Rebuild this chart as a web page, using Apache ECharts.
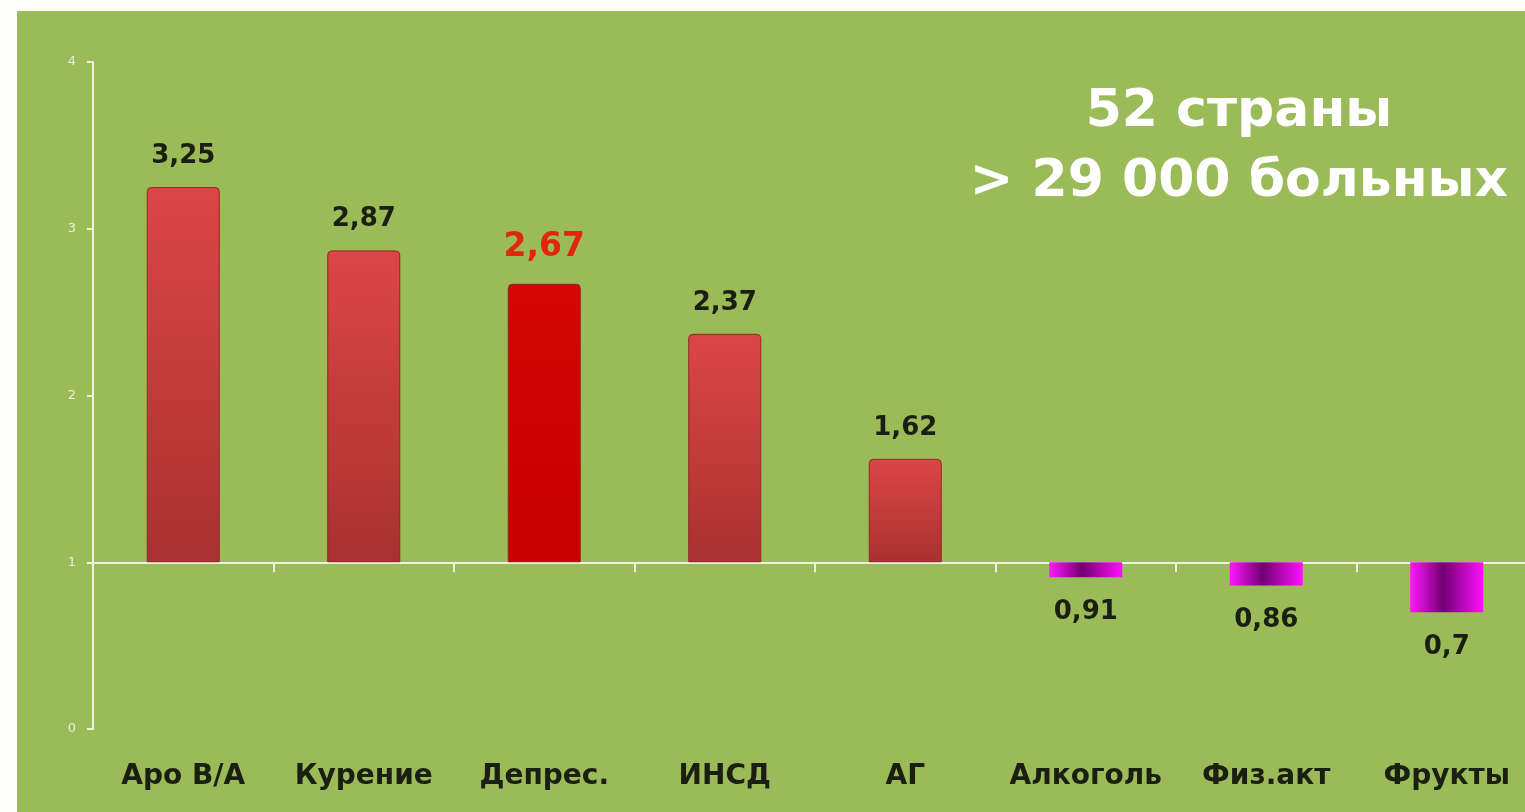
<!DOCTYPE html>
<html>
<head>
<meta charset="utf-8">
<script src="https://cdn.jsdelivr.net/npm/echarts@6/dist/echarts.min.js"></script>
<style>
  html, body { margin: 0; padding: 0; background: #fdfdfb; overflow: hidden; }
  #chart { position: absolute; left: 17px; top: 11px; width: 1520px; height: 801px; background: #9bbb59; }
</style>
</head>
<body>
<div id="chart"></div>
<script>
// данные
const categories = ['Аро В/А', 'Курение', 'Депрес.', 'ИНСД', 'АГ', 'Алкоголь', 'Физ.акт', 'Фрукты']
const values = [3.25, 2.87, 2.67, 2.37, 1.62, 0.91, 0.86, 0.7]
const yTicks = [0, 1, 2, 3, 4]
const baseline = 1
const highlightIdx = 2

const FONT = '"DejaVu Sans", Verdana, sans-serif'

const redGrad = new echarts.graphic.LinearGradient(0, 0, 0, 1, [
  { offset: 0, color: '#dc4646' },
  { offset: 1, color: '#a93131' },
])
const hiGrad = new echarts.graphic.LinearGradient(0, 0, 0, 1, [
  { offset: 0, color: '#d40606' },
  { offset: 1, color: '#c80000' },
])
const purpleGrad = new echarts.graphic.LinearGradient(0, 0, 1, 0, [
  { offset: 0, color: '#ff16ff' },
  { offset: 0.45, color: '#720072' },
  { offset: 1, color: '#ff10ff' },
])

function fmt(v) {
  return String(v).replace('.', ',')
}

// прозрачное основание + видимая часть от линии 1
const baseData = values.map((v) => Math.min(v, baseline))
const barData = values.map((v, i) => {
  const up = v >= baseline
  const isHi = i === highlightIdx
  return {
    value: Math.abs(v - baseline),
    itemStyle: {
      color: up ? (isHi ? hiGrad : redGrad) : purpleGrad,
      borderColor: up ? '#8c2a22' : '#e060e0',
      borderWidth: up ? 1 : 0,
      borderRadius: up ? [4, 4, 0, 0] : 0,
    },
    label: {
      position: up ? 'top' : 'bottom',
      distance: up ? (isHi ? 20 : 18) : 22,
      color: isHi ? '#e2260e' : '#1b1f12',
      fontSize: isHi ? 33 : 26,
    },
  }
})

const chart = echarts.init(document.getElementById('chart'))
chart.setOption({
  animation: false,
  grid: { left: 76, right: 0, top: 51, bottom: 83 },
  graphic: [
    {
      type: 'text',
      x: 1222,
      y: 66,
      style: {
        text: '52 страны\n> 29 000 больных',
        fill: '#ffffff',
        font: 'bold 52px ' + FONT,
        lineHeight: 70,
        align: 'center',
        textAlign: 'center',
      },
    },
  ],
  xAxis: [
    {
      type: 'category',
      position: 'bottom',
      data: categories,
      axisLine: { show: false },
      axisTick: { show: false },
      axisLabel: {
        margin: 34,
        color: '#1b1f12',
        fontSize: 28,
        fontWeight: 'bold',
        fontFamily: FONT,
        interval: 0,
      },
    },
    {
      // линия на уровне 1
      type: 'category',
      position: 'top',
      offset: -(4 - baseline) * 166.75,
      data: categories,
      axisLine: { show: true, lineStyle: { color: '#eef3df', width: 2 } },
      axisTick: { show: true, inside: true, length: 10, lineStyle: { color: '#eef3df', width: 2 } },
      axisLabel: { show: false },
    },
  ],
  yAxis: {
    type: 'value',
    min: yTicks[0],
    max: yTicks[yTicks.length - 1],
    interval: 1,
    splitLine: { show: false },
    axisLine: { show: true, lineStyle: { color: '#eef3df', width: 2 } },
    axisTick: { show: true, length: 6, lineStyle: { color: '#eef3df', width: 2 } },
    axisLabel: { color: '#e8eed8', fontSize: 13, margin: 17, fontFamily: FONT },
  },
  series: [
    {
      type: 'bar',
      stack: 'rr',
      data: baseData,
      barWidth: 73,
      itemStyle: { color: 'transparent' },
      silent: true,
    },
    {
      type: 'bar',
      stack: 'rr',
      data: barData,
      barWidth: 73,
      label: {
        show: true,
        fontWeight: 'bold',
        fontFamily: FONT,
        formatter: (p) => fmt(values[p.dataIndex]),
      },
    },
  ],
})
</script>
</body>
</html>
